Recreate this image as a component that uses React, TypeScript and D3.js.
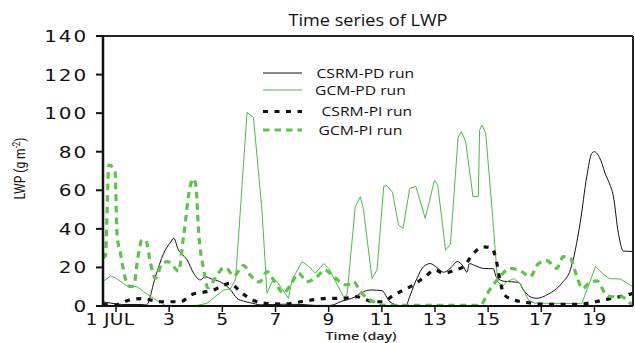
import React from "react";
import * as d3 from "d3";

const W = 635;
const H = 343;
const M = { left: 103, right: 2, top: 36, bottom: 37 };

const yTicks = [0, 20, 40, 60, 80, 100, 120, 140];
const xTicks = [1, 3, 5, 7, 9, 11, 13, 15, 17, 19];
const xTickLabels = ["1 JUL", "3", "5", "7", "9", "11", "13", "15", "17", "19"];

const csrmPdDays = [0.5, 0.8, 1.2, 2.0, 2.14, 2.48, 2.79, 3.05, 3.17, 3.35, 3.47, 3.67, 3.92, 4.17, 4.36, 4.6, 4.73, 5.05, 5.3, 5.55, 5.8, 6.05, 6.45, 7.3, 8.0, 8.5, 9.06, 9.5, 9.87, 10.0, 10.31, 10.6, 11.0, 11.3, 11.69, 11.9, 12.07, 12.32, 12.57, 12.82, 13.07, 13.32, 13.57, 13.85, 14.07, 14.2, 14.3, 14.5, 14.82, 15.2, 15.3, 15.6, 16.14, 16.33, 16.58, 16.83, 17.27, 17.77, 18.1, 18.46, 18.71, 18.9, 19.0, 19.1, 19.28, 19.4, 19.55, 19.71, 19.9, 20.09, 20.45];
const csrmPdValues = [2.2, 1.5, 0.8, 0.8, 0.5, 15, 27.3, 33, 35.1, 29, 27, 24, 17, 13.5, 15.2, 14, 13.5, 11.5, 8.5, 4, 2.5, 1.7, 0.6, 0.9, 0.8, 0.3, 0.3, 2.5, 4, 4.8, 7.4, 8.3, 8, 2.2, 0.2, 0.2, 5.7, 14.3, 20.4, 22, 20, 17.5, 19.5, 23, 20.4, 17.5, 22, 21, 19.5, 19.3, 15.2, 12.8, 12.3, 8.3, 4.8, 4, 6.2, 11.8, 19, 42.9, 67, 79.2, 80, 79, 74, 68.8, 64, 57, 37.7, 28.5, 28.3];

const gcmPdDays = [0.5, 0.79, 0.96, 1.29, 1.47, 1.79, 2.04, 2.41, 2.85, 4.05, 4.42, 4.73, 5.05, 5.3, 5.5, 5.93, 6.17, 6.49, 6.68, 6.87, 7.05, 7.49, 7.62, 8.0, 8.24, 8.5, 8.81, 9.0, 9.56, 9.69, 10.0, 10.19, 10.31, 10.63, 10.82, 11.07, 11.19, 11.4, 11.63, 11.8, 12.05, 12.28, 12.63, 12.82, 12.98, 13.1, 13.4, 13.58, 13.87, 13.99, 14.15, 14.43, 14.63, 14.68, 14.77, 14.91, 15.17, 15.36, 15.55, 15.7, 15.97, 16.22, 16.52, 16.76, 18.52, 19.04, 19.3, 19.55, 19.97, 20.45];
const gcmPdValues = [12.6, 15.5, 14.8, 11.5, 10, 10, 7.4, 4, 0.3, 0.3, 1.4, 4.8, 8.3, 8.8, 14, 100.4, 97.8, 49.8, 6.6, 12.6, 12.8, 4, 13.5, 23, 20.7, 17, 22, 19.6, 4.8, 5.5, 51.5, 56.7, 50, 14.3, 18.7, 62, 62.4, 59, 42, 40.3, 61, 62, 45.5, 56, 65.3, 63, 29, 32, 87.5, 90.4, 85.5, 56.7, 56.7, 91.2, 93.8, 89.5, 46, 12.5, 10.3, 12.6, 14.2, 11.5, 3, 1.5, 1.2, 20.4, 17, 14.2, 14, 10];

const csrmPiDays = [0.5, 0.95, 1.2, 1.47, 1.95, 2.3, 2.67, 3.42, 3.86, 4.3, 4.67, 4.99, 5.3, 5.45, 5.61, 5.93, 6.3, 6.68, 7.3, 7.93, 8.56, 9.06, 9.56, 10.06, 10.44, 10.7, 11.06, 11.44, 11.82, 12.19, 12.63, 13.0, 13.32, 13.76, 14.07, 14.45, 14.82, 15.14, 15.3, 15.45, 15.6, 15.89, 16.52, 17.27, 18.4, 19.03, 19.65, 20.22, 20.45];
const csrmPiValues = [0.8, 0.5, 1.5, 3, 3.8, 3.1, 2.2, 2.2, 6, 7.2, 8.3, 10.5, 11.8, 10.5, 8.3, 4.8, 2.2, 1.3, 1, 2.2, 3.5, 4, 4, 4.8, 3.1, 2.2, 2.2, 5.7, 8.3, 10.9, 15.2, 18.7, 17, 18.7, 20.4, 27.3, 30.7, 30, 24, 13, 6, 3.5, 1.7, 0.9, 0.9, 2.2, 4, 5.7, 6.6];

const gcmPiDays = [0.5, 0.6, 0.73, 0.96, 1.04, 1.17, 1.35, 1.55, 1.68, 1.79, 1.98, 2.12, 2.3, 2.48, 2.73, 2.95, 3.17, 3.35, 3.54, 3.79, 3.9, 4.0, 4.11, 4.3, 4.45, 4.8, 5.05, 5.17, 5.42, 5.8, 6.05, 6.4, 6.68, 6.93, 7.3, 7.56, 7.87, 8.18, 8.56, 8.87, 9.05, 9.43, 9.69, 9.94, 10.19, 10.31, 10.69, 11.19, 14.7, 15.01, 15.39, 15.83, 16.27, 16.58, 16.89, 17.21, 17.58, 17.83, 18.09, 18.34, 18.55, 18.8, 19.1, 19.4, 19.65, 20.03, 20.28, 20.45];
const gcmPiValues = [25, 26, 73, 70.5, 37, 27, 14.3, 10, 11, 22, 34.2, 34, 22, 14.3, 22, 23, 20.4, 18, 36, 62, 66, 63, 38, 18.7, 9.5, 16, 19.8, 19.5, 15.5, 21, 16, 12.5, 17.8, 13.5, 6.6, 10.9, 17, 12.6, 15.2, 18.7, 17, 12.6, 10.9, 12.6, 7.4, 5.7, 2.2, 0.3, 0.3, 7.4, 14.3, 19.5, 17.8, 15.2, 22, 23.5, 19.5, 25.6, 24.7, 15.2, 9, 12, 13, 6.6, 4.8, 4.8, 2.2, 0.3];

const legendLabels = ["CSRM-PD run", "GCM-PD run", "CSRM-PI run", "GCM-PI run"];

const BLACK = "#111111";
const GREEN = "#4db848";
const GREEN_DASH = "#5ec24c";

export default function App() {
  const x = d3.scaleLinear().domain([0.51, 20.45]).range([M.left, W - M.right]);
  const y = d3.scaleLinear().domain([0, 140]).range([H - M.bottom, M.top]);

  const zip = (ds: number[], vs: number[]) => ds.map((d, i) => [d, vs[i]] as [number, number]);
  const lineLinear = d3.line<[number, number]>().x((d) => x(d[0])).y((d) => y(d[1]));
  const lineSmooth = d3
    .line<[number, number]>()
    .x((d) => x(d[0]))
    .y((d) => y(d[1]))
    .curve(d3.curveMonotoneX);

  const series = [
    { d: lineSmooth(zip(csrmPdDays, csrmPdValues)), stroke: BLACK, w: 1, dash: undefined },
    { d: lineLinear(zip(gcmPdDays, gcmPdValues)), stroke: GREEN, w: 1, dash: undefined },
    { d: lineSmooth(zip(csrmPiDays, csrmPiValues)), stroke: BLACK, w: 3.2, dash: "5 6.5" },
    { d: lineSmooth(zip(gcmPiDays, gcmPiValues)), stroke: GREEN_DASH, w: 3.2, dash: "6.5 5" },
  ];

  const x0 = M.left;
  const x1 = W - M.right;
  const yb = H - M.bottom;
  const tickFont = "'DejaVu Sans', sans-serif";
  const sansFont = "'Open Sans', sans-serif";

  const legendY = [73, 90, 111.5, 130];
  const legendTextX = [316.5, 315, 321.5, 318.5];

  return (
    <svg
      width={W}
      height={H}
      style={{ position: "absolute", left: 0, top: 0, background: "#fff" }}
    >
      <defs>
        <clipPath id="plot">
          <rect x={x0} y={M.top} width={x1 - x0} height={yb - M.top} />
        </clipPath>
      </defs>

      <text
        transform={`translate(${(x0 + x1) / 2},25.5) scale(1.13,1)`}
        textAnchor="middle"
        fontFamily={sansFont}
        fontSize={16}
        fill="#111"
      >
        Time series of LWP
      </text>

      <g clipPath="url(#plot)">
        {series.map((s, i) => (
          <path
            key={i}
            d={s.d ?? ""}
            fill="none"
            stroke={s.stroke}
            strokeWidth={s.w}
            strokeDasharray={s.dash}
            strokeLinejoin="round"
          />
        ))}
      </g>

      {/* frame */}
      <line x1={x0} y1={M.top} x2={x1} y2={M.top} stroke="#222" strokeWidth={2} />
      <line x1={x1} y1={M.top} x2={x1} y2={yb} stroke="#222" strokeWidth={2} />
      <line x1={x0} y1={yb} x2={x1} y2={yb} stroke="#111" strokeWidth={2} />
      <line x1={x0} y1={M.top - 1} x2={x0} y2={yb + 1} stroke="#111" strokeWidth={2.5} />

      {/* y ticks */}
      {yTicks.map((t) => (
        <g key={t}>
          <line x1={x0 - 7} x2={x0} y1={y(t)} y2={y(t)} stroke="#111" strokeWidth={2} />
          <text
            transform={`translate(${x0 - 15},${y(t) + 6}) scale(1.25,1)`}
            textAnchor="end"
            fontFamily={tickFont}
            fontSize={16}
            letterSpacing={1.5}
            fill="#111"
          >
            {String(t)}
          </text>
        </g>
      ))}

      {/* x ticks */}
      {xTicks.map((t, i) => (
        <g key={t}>
          <line x1={x(t)} x2={x(t)} y1={yb} y2={yb + 6} stroke="#111" strokeWidth={1.5} />
          <text
            transform={`translate(${x(t) + (i === 0 ? -6 : 0)},${yb + 18.8}) scale(1.24,1)`}
            textAnchor="middle"
            fontFamily={tickFont}
            fontSize={15}
            letterSpacing={0.3}
            fill="#111"
          >
            {xTickLabels[i]}
          </text>
        </g>
      ))}

      <text
        transform="translate(361,340) scale(1.32,1)"
        textAnchor="middle"
        fontFamily={sansFont}
        fontWeight={600}
        fontSize={10.8}
        fill="#222"
      >
        Time (day)
      </text>

      <text
        transform="translate(25,168.5) rotate(-90) scale(0.8,1)"
        textAnchor="middle"
        fontFamily="'Roboto', sans-serif"
        fontSize={15}
        fill="#111"
      >
        LWP (g m
        <tspan dy={-5} fontSize={10}>
          -2
        </tspan>
        <tspan dy={5}>)</tspan>
      </text>

      {/* legend */}
      {series.map((s, i) => (
        <g key={"lg" + i}>
          <line
            x1={263}
            x2={302}
            y1={legendY[i]}
            y2={legendY[i]}
            stroke={s.stroke}
            strokeWidth={s.w}
            strokeDasharray={s.dash}
          />
          <text
            transform={`translate(${legendTextX[i]},${legendY[i] + 4.8}) scale(1.16,1)`}
            fontFamily={sansFont}
            fontSize={13.5}
            fill="#111"
          >
            {legendLabels[i]}
          </text>
        </g>
      ))}
    </svg>
  );
}
